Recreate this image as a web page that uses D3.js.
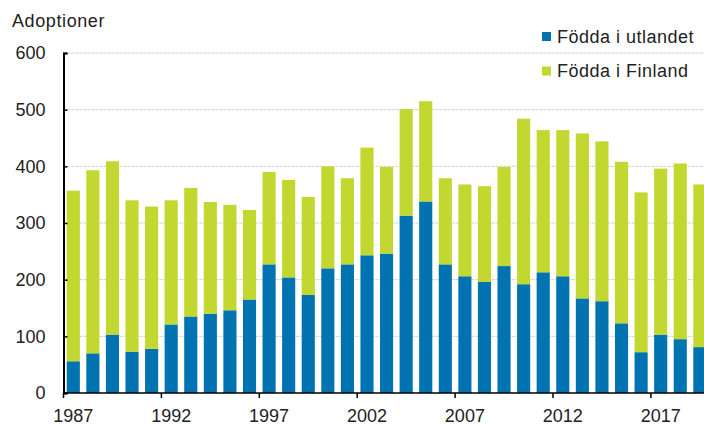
<!DOCTYPE html>
<html>
<head>
<meta charset="utf-8">
<script src="https://cdn.jsdelivr.net/npm/d3@7"></script>
<style>
  body { margin: 0; background: #fff; }
  svg { display: block; font-family: "Liberation Sans", Arial, sans-serif; }
  .grid line { stroke: #cfcfcf; stroke-width: 1; stroke-dasharray: 3,1; }
</style>
</head>
<body>
<div class="chart"></div>
<script>
// Adoptioner 1987-2019, stacked
const years = d3.range(1987, 2020)
const seriesNames = ["Födda i utlandet", "Födda i Finland"]
const foreignBorn = [56, 70, 103, 73, 78, 121, 135, 140, 146, 165, 227, 204, 173, 220, 227, 243, 246,
  313, 338, 227, 206, 196, 224, 192, 213, 206, 167, 162, 123, 72, 103, 95, 81]
const finlandBorn = [301, 323, 306, 267, 251, 219, 227, 197, 186, 158, 163, 172, 173, 180, 152, 190, 153,
  188, 177, 152, 162, 169, 175, 292, 251, 258, 291, 282, 285, 282, 293, 310, 287]
const yTicks = [0, 100, 200, 300, 400, 500, 600]
const xTickYears = [1987, 1992, 1997, 2002, 2007, 2012, 2017]

const width = 704
const height = 425
const margin = {top: 53, left: 63.5, bottom: 32}
const colours = d3.scaleOrdinal().domain(seriesNames).range(["#0073b0", "#c2d72f"])

const rows = years.map(function(y, i) {
  return {year: y, "Födda i utlandet": foreignBorn[i], "Födda i Finland": finlandBorn[i]}
})
const stacked = d3.stack().keys(seriesNames)(rows)

const x = d3.scaleBand().domain(years)
  .range([margin.left, margin.left + 19.58 * years.length])
  .paddingInner(0.33).paddingOuter(0.165)
const y = d3.scaleLinear().domain([0, 600]).range([height - margin.bottom, margin.top])

const svg = d3.select(".chart").append("svg")
  .attr("width", width)
  .attr("height", height)

// gridlines
svg.append("g").attr("class", "grid")
  .selectAll("line").data(yTicks.slice(1)).enter().append("line")
  .attr("x1", margin.left).attr("x2", width)
  .attr("y1", function(d) { return y(d) }).attr("y2", function(d) { return y(d) })

// bars
svg.append("g").selectAll("g").data(stacked).enter().append("g")
  .attr("fill", function(d) { return colours(d.key) })
  .selectAll("rect").data(function(d) { return d }).enter().append("rect")
  .attr("x", function(d) { return x(d.data.year) })
  .attr("y", function(d) { return y(d[1]) })
  .attr("width", x.bandwidth())
  .attr("height", function(d) { return y(d[0]) - y(d[1]) })

// y axis: ticks point inward, labels on the left
const yAxis = svg.append("g")
  .attr("transform", "translate(" + margin.left + ",0)")
  .call(d3.axisRight(y).tickValues(yTicks).tickSize(4).tickFormat(d3.format("d")))
yAxis.select(".domain").attr("stroke", "#000").attr("stroke-width", 2)
yAxis.selectAll(".tick line").attr("stroke", "#000").attr("stroke-width", 1.5)
yAxis.selectAll(".tick text")
  .attr("x", -18).attr("text-anchor", "end")
  .attr("font-size", 18).attr("fill", "#222")

// x axis: ticks at band start, labels under the bar
const half = x.step() * x.paddingInner() / 2
const xAxis = svg.append("g")
  .attr("transform", "translate(0," + y(0) + ")")
xAxis.append("line")
  .attr("x1", margin.left).attr("x2", width)
  .attr("stroke", "#000").attr("stroke-width", 1.5)
const xt = xAxis.selectAll(".xtick").data(xTickYears).enter().append("g")
  .attr("class", "xtick")
xt.append("line")
  .attr("x1", function(d) { return x(d) - half }).attr("x2", function(d) { return x(d) - half })
  .attr("y1", 0).attr("y2", 5)
  .attr("stroke", "#000").attr("stroke-width", 1.5)
xt.append("text")
  .attr("x", function(d) { return x(d) + x.bandwidth() / 2 })
  .attr("y", 29)
  .attr("text-anchor", "middle")
  .attr("font-size", 18).attr("fill", "#222")
  .text(function(d) { return d })

// title
svg.append("text")
  .attr("x", 12).attr("y", 27)
  .attr("font-size", 18).attr("letter-spacing", 0.6).attr("fill", "#222")
  .text("Adoptioner")

// legend
const legend = svg.selectAll(".legend").data(seriesNames).enter().append("g")
  .attr("class", "legend")
  .attr("transform", function(d, i) { return "translate(542," + (32 + i * 34.5) + ")" })
legend.append("rect").attr("width", 9).attr("height", 9)
  .attr("fill", function(d) { return colours(d) })
legend.append("text").attr("x", 15).attr("y", 10.5)
  .attr("font-size", 18).attr("letter-spacing", 0.5).attr("fill", "#222")
  .text(function(d) { return d })
</script>
</body>
</html>
